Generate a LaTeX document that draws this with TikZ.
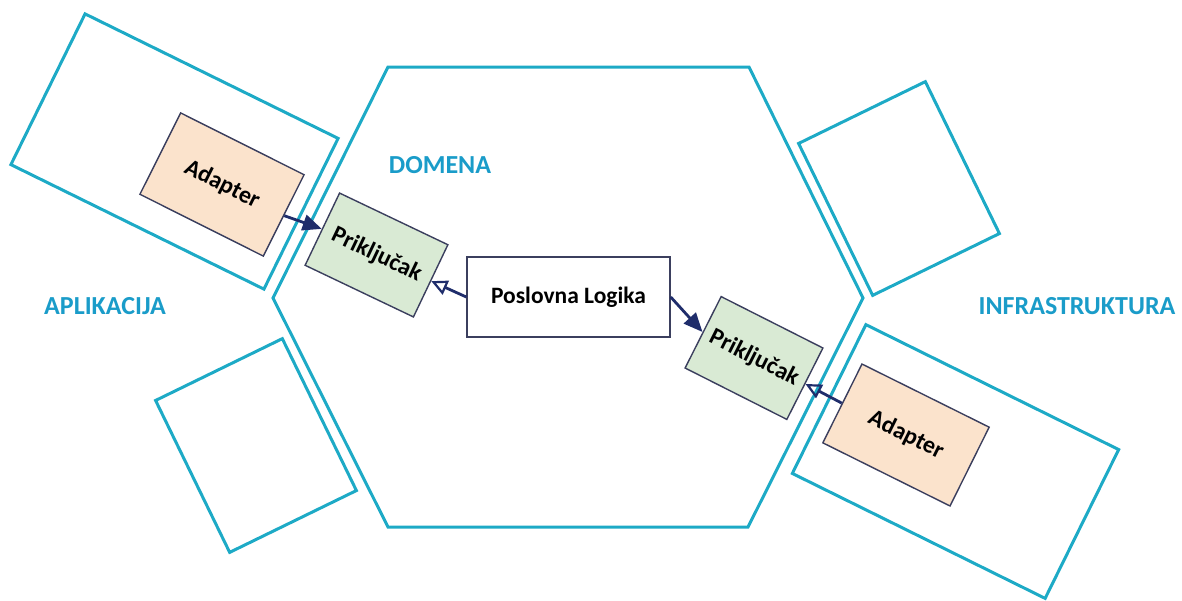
\documentclass[tikz,border=0pt]{standalone}
\usepackage{fontspec}
\setmainfont{Carlito}
\usetikzlibrary{arrows.meta}
\definecolor{hexc}{HTML}{1DAAC6}
\definecolor{labc}{HTML}{1A9CC9}
\definecolor{navy}{HTML}{1F2D6B}
\definecolor{edgec}{HTML}{3B3F5E}
\definecolor{peach}{HTML}{FBE3CC}
\definecolor{mint}{HTML}{D9EAD4}
\tikzset{
  cube/.style={draw=edgec, line width=1.4pt, inner sep=0pt, font=\bfseries\fontsize{24}{26}\selectfont},
  adapterbox/.style={cube, fill=peach, minimum width=138pt, minimum height=91pt},
  portbox/.style={cube, fill=mint, minimum width=117pt, minimum height=80pt},
  logicbox/.style={cube, fill=white, minimum width=203pt, minimum height=80pt, font=\bfseries\fontsize{23.5}{26}\selectfont},
  biglabel/.style={text=labc, font=\bfseries\fontsize{26}{28}\selectfont, inner sep=0pt},
  zone/.style={draw=hexc, line width=3pt, inner sep=0pt},
  solidarrow/.style={draw=navy, line width=2.8pt, -{Triangle[length=19pt,width=16pt]}},
  openarrow/.style={draw=navy, line width=2.8pt, -{Triangle[open,length=16pt,width=15pt,line width=2.2pt]}},
}
\begin{document}
\begin{tikzpicture}[x=1pt,y=-1pt]
\useasboundingbox (0,0) rectangle (1182,600);
% hexagon
\draw[draw=hexc, line width=3pt, line join=miter]
  (388,67) -- (749,67) -- (863,298) -- (748,527) -- (388,527) -- (273,298) -- cycle;
% outer zones
\node[zone, minimum width=282pt, minimum height=168pt, rotate=-26.2] (appzone) at (174.5,151.5) {};
\node[zone, minimum width=282pt, minimum height=166pt, rotate=-26.3] (infzone) at (955.5,461.5) {};
\node[zone, minimum width=141pt, minimum height=169pt, rotate=26] (boxbl) at (256,445.5) {};
\node[zone, minimum width=141pt, minimum height=169pt, rotate=26] (boxtr) at (899,188.5) {};
% labels
\node[biglabel] (domena) at (440,165) {DOMENA};
\node[biglabel] (aplik) at (105,306) {APLIKACIJA};
\node[biglabel] (infra) at (1077,306) {INFRASTRUKTURA};
% inner boxes
\node[adapterbox, rotate=-26.6] (adL) at (222,184.5) {Adapter};
\node[portbox, rotate=-25.5, minimum width=120pt] (prL) at (376.5,255) {Priključak};
\node[logicbox] (pl) at (568.5,297) {Poslovna Logika};
\node[portbox, rotate=-26.8, minimum width=114pt] (prR) at (754,358) {Priključak};
\node[adapterbox, rotate=-26.4, minimum width=142pt, minimum height=88pt] (adR) at (906,435) {Adapter};
% arrows
\draw[solidarrow] (adL.east) -- (prL.west);
\draw[openarrow] (pl.west) -- (prL.east);
\draw[solidarrow] (pl.east) -- (prR.west);
\draw[openarrow] (adR.west) -- (prR.east);
\end{tikzpicture}
\end{document}
